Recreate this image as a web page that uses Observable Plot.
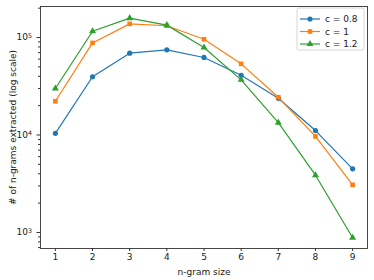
<!DOCTYPE html>
<html><head><meta charset="utf-8">
<script src="https://cdn.jsdelivr.net/npm/d3@7"></script>
<script src="https://cdn.jsdelivr.net/npm/@observablehq/plot@0.6"></script>
<style>body{margin:0;background:#fff} #chart{width:374px;height:280px}</style>
</head><body><div id="chart"></div>
<script>
const ngramSizes = [1, 2, 3, 4, 5, 6, 7, 8, 9];
const c08 = [10400, 39600, 69000, 74700, 62400, 41000, 23800, 11100, 4500];
const c10 = [22200, 88000, 138000, 132000, 96000, 53700, 24400, 9660, 3080];
const c12 = [30000, 116000, 158000, 134000, 79000, 36800, 13400, 3870, 884];
const seriesNames = ["c = 0.8", "c = 1", "c = 1.2"];
const seriesColors = ["#1f77b4", "#ff7f0e", "#2ca02c"];
const seriesSymbols = ["circle", "square", "triangle"];
const xTicks = [1, 2, 3, 4, 5, 6, 7, 8, 9];
const majorYTicks = [1e3, 1e4, 1e5];
const majorYExponents = ["3", "4", "5"];
const minorYTicks = [700, 800, 900, 2000, 3000, 4000, 5000, 6000, 7000, 8000, 9000,
  20000, 30000, 40000, 50000, 60000, 70000, 80000, 90000, 200000];

const allSeries = [c08, c10, c12];
const data = [];
allSeries.forEach((vals, i) => vals.forEach((v, j) => data.push({n: ngramSizes[j], v, s: seriesNames[i]})));

const font = "DejaVu Sans, sans-serif";
const chart = Plot.plot({
  width: 374, height: 280,
  marginLeft: 40, marginRight: 7, marginTop: 6, marginBottom: 32,
  style: {fontFamily: font, fontSize: "9px", background: "#fff", color: "#222"},
  x: {type: "linear", domain: [0.6, 9.4]},
  y: {type: "log", domain: [685, 208000]},
  color: {domain: seriesNames, range: seriesColors},
  symbol: {domain: seriesNames, range: seriesSymbols},
  marks: [
    Plot.line(data, {x: "n", y: "v", z: "s", stroke: "s", strokeWidth: 1.2}),
    Plot.dot(data, {x: "n", y: "v", fill: "s", symbol: "s", r: 2.6, stroke: "none"}),
    Plot.axisX({ticks: xTicks, tickSize: 3, tickPadding: 2, label: "n-gram size", labelAnchor: "center", labelArrow: "none", labelOffset: 26, stroke: "#333", fontSize: 9}),
    Plot.axisY({ticks: majorYTicks, tickFormat: (d) => "10", tickSize: 3.5, tickPadding: 5, label: "# of n-grams extracted (log scale)", labelAnchor: "center", labelArrow: "none", labelOffset: 31, stroke: "#333", fontSize: 9}),
    Plot.axisY({ticks: minorYTicks, tickFormat: () => "", tickSize: 2, stroke: "#333", label: null}),
    Plot.frame({stroke: "#333", strokeWidth: 0.9})
  ]
});
document.getElementById("chart").appendChild(chart);

const svg = d3.select(chart);
// superscript exponents on the y tick labels
svg.selectAll("g[aria-label='y-axis tick label'] text").each(function(d, i) {
  const t = d3.select(this);
  if (t.text() === "10") {
    t.append("tspan").attr("font-size", "6.3px").attr("dy", "-0.45em").text(majorYExponents[i]);
  }
});

// legend
const lg = svg.append("g").attr("transform", "translate(297,8)").attr("font-family", font).attr("font-size", 9).attr("text-anchor", "start");
lg.append("rect").attr("width", 67).attr("height", 42).attr("rx", 2).attr("fill", "white").attr("fill-opacity", 0.8).attr("stroke", "#ccc").attr("stroke-width", 0.8);
seriesNames.forEach((name, i) => {
  const y = 11 + i * 12.5;
  lg.append("line").attr("x1", 3).attr("x2", 23).attr("y1", y).attr("y2", y).attr("stroke", seriesColors[i]).attr("stroke-width", 1.2);
  lg.append("path").attr("d", d3.symbol(i === 0 ? d3.symbolCircle : i === 1 ? d3.symbolSquare : d3.symbolTriangle, 21)()).attr("transform", `translate(13,${y})`).attr("fill", seriesColors[i]);
  lg.append("text").attr("x", 28).attr("y", y).attr("dy", "0.35em").attr("text-anchor", "start").attr("fill", "#222").text(name);
});
</script>
</body></html>
